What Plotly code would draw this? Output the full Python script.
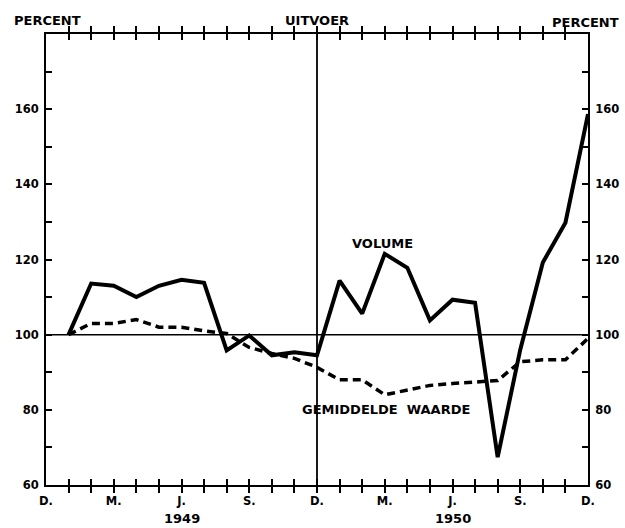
import plotly.graph_objects as go

# Month index: 0 = Dec 1948 ... 24 = Dec 1950
months = list(range(1, 25))
volume = [100, 113.6, 113, 110, 113, 114.6, 113.8, 95.8, 99.8, 94.5, 95.3, 94.5,
          114.4, 105.6, 121.5, 117.8, 103.8, 109.3, 108.5, 67.4, 96, 119.2, 129.8, 158.7]
gemiddelde = [100, 103, 103, 104, 102, 102, 101, 100.3, 96.6, 95, 93.7, 91.3,
              88, 88, 84, 85.3, 86.5, 87, 87.3, 87.8, 92.8, 93.3, 93.3, 99]

x_tickvals = [0, 3, 6, 9, 12, 15, 18, 21, 24]
x_ticktext = ["D.", "M.", "J.", "S.", "D.", "M.", "J.", "S.", "D."]
year_pos = [6, 18]
year_text = ["1949", "1950"]
y_tickvals = list(range(60, 181, 10))
y_ticktext = [str(v) if v in (60, 80, 100, 120, 140, 160) else "" for v in y_tickvals]

FAM = "DejaVu Sans"
TICKFONT = dict(family=FAM, size=11.5, color="black", weight=700)
FONT = dict(family=FAM, size=13, color="black", weight=700)

fig = go.Figure()
fig.add_trace(go.Scatter(x=months, y=gemiddelde, mode="lines",
                         line=dict(color="black", width=3.5, dash="8px,5px"),
                         hoverinfo="skip", showlegend=False))
fig.add_trace(go.Scatter(x=months, y=volume, mode="lines",
                         line=dict(color="black", width=4),
                         hoverinfo="skip", showlegend=False))
fig.add_trace(go.Scatter(x=months, y=gemiddelde, mode="lines", yaxis="y2",
                         opacity=0, hoverinfo="skip", showlegend=False))

fig.add_shape(type="line", xref="x", yref="paper", x0=12, x1=12, y0=0, y1=1,
              line=dict(color="black", width=1.8))
fig.add_shape(type="line", xref="paper", yref="y", x0=0, x1=1, y0=100, y1=100,
              line=dict(color="black", width=1.5))

axis_common = dict(showgrid=False, zeroline=False, showline=True, linecolor="black",
                   linewidth=2, ticks="inside", tickcolor="black", ticklen=6,
                   tickwidth=1.5, tickfont=TICKFONT, automargin=False)

fig.update_layout(
    width=625, height=528,
    margin=dict(l=46, r=37, t=34, b=43, autoexpand=False),
    paper_bgcolor="white", plot_bgcolor="white",
    xaxis=dict(range=[0, 24], tickmode="array", tickvals=list(range(0, 25)),
               ticktext=[x_ticktext[x_tickvals.index(i)] if i in x_tickvals else "" for i in range(25)],
               mirror="allticks", ticklabelstandoff=4, **axis_common),
    yaxis=dict(range=[60, 180], tickmode="array", tickvals=y_tickvals,
               ticktext=y_ticktext, ticklabelstandoff=3, **axis_common),
    yaxis2=dict(range=[60, 180], tickmode="array", tickvals=y_tickvals,
                ticktext=y_ticktext, overlaying="y", side="right",
                ticklabelstandoff=3, **axis_common),
)

for xp, t in zip(year_pos, year_text):
    fig.add_annotation(x=xp, xref="x", y=-0.075, yref="paper", text=t,
                       showarrow=False, font=FONT, yanchor="middle")

fig.add_annotation(x=-0.062, xref="paper", y=1.03, yref="paper", text="PERCENT",
                   showarrow=False, font=FONT, xanchor="left", yanchor="middle")
fig.add_annotation(x=12, xref="x", y=1.03, yref="paper", text="UITVOER",
                   showarrow=False, font=FONT, xanchor="center", yanchor="middle")
fig.add_annotation(x=1.06, xref="paper", y=1.026, yref="paper", text="PERCENT",
                   showarrow=False, font=FONT, xanchor="right", yanchor="middle")
fig.add_annotation(x=14.9, xref="x", y=124.2, yref="y", text="VOLUME",
                   showarrow=False, font=FONT, xanchor="center", yanchor="middle")
fig.add_annotation(x=15.05, xref="x", y=80, yref="y", text="GEMIDDELDE  WAARDE",
                   showarrow=False, font=FONT, xanchor="center", yanchor="middle")

fig.write_html("out.html", config={"displayModeBar": False},
               post_script="document.body.style.margin='0';document.body.style.padding='0';")
